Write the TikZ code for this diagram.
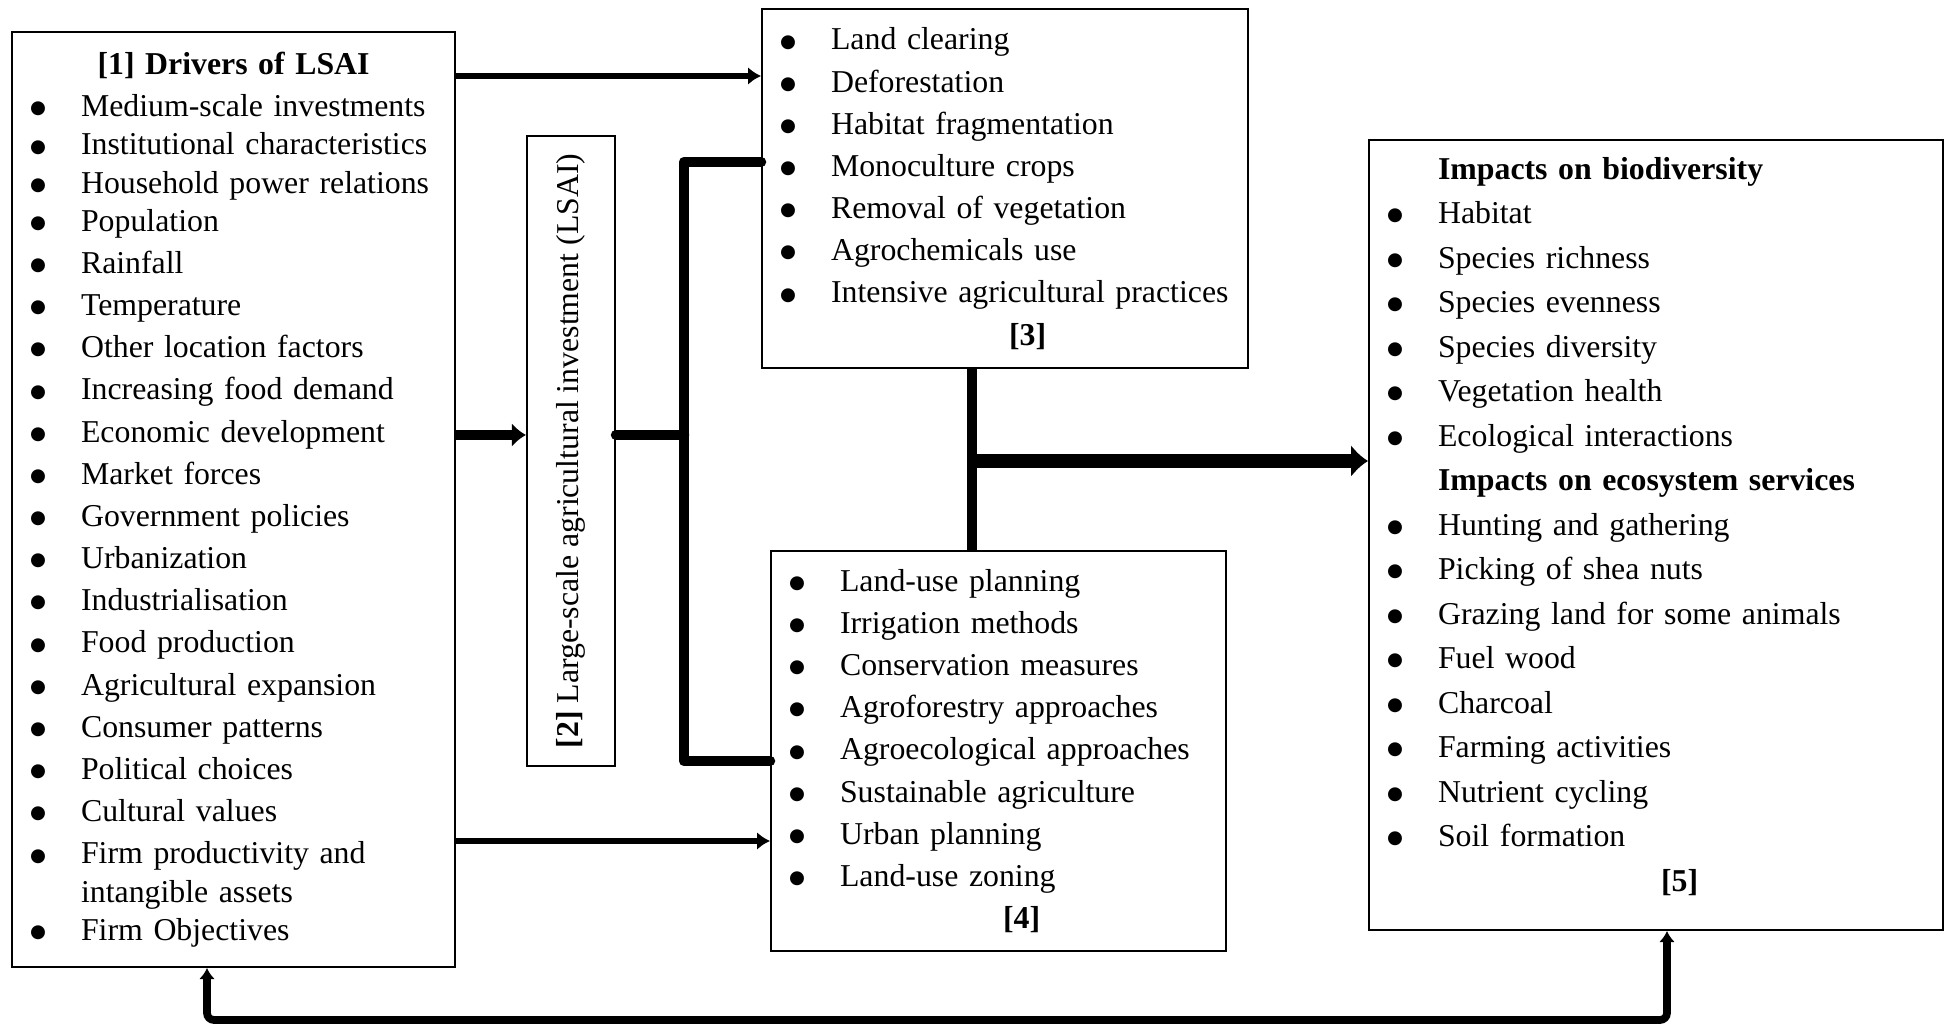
\documentclass[tikz,border=0pt]{standalone}
\usepackage{fontspec}
\setmainfont{Liberation Serif}
\newfontfamily\symfont{DejaVu Sans}
\usetikzlibrary{arrows.meta,positioning,calc}
\newcommand{\bul}[1]{\mbox{\makebox[0.47cm][l]{\hspace*{-0.04cm}\raisebox{0.8pt}{\fontsize{5.2}{5.2}\symfont ●}}#1}}
\newcommand{\ctr}[1]{\hbox to \hsize{\hfil\textbf{#1}\hfil}}

\begin{document}
\begin{tikzpicture}[
    box/.style={rectangle, draw, line width=0.6pt, inner sep=0pt, align=left,
                font=\fontsize{9.05}{12}\selectfont},
    wide/.style={box, font=\fontsize{9.05}{12.66}\selectfont},
    arr/.style={-{Latex[length=1.3mm, width=1.8mm]}, line width=1.7pt},
    thk/.style={-{Latex[length=1.4mm, width=2.4mm]}, line width=2.9pt},
    bar/.style={line width=3pt, line cap=round, line join=round},
    big/.style={-{Latex[length=1.7mm, width=3.3mm]}, line width=4.2pt},
    fb/.style={{Latex[length=1.1mm, width=1.6mm]}-{Latex[length=1.1mm, width=1.6mm]}, line width=2.2pt}
]
\useasboundingbox (0,0) rectangle (19.5,-10.26);

% [1] drivers
\node[box, anchor=north west, minimum width=4.43cm, minimum height=9.35cm, text width=3.99cm] (drv) at (0.11,-0.31) {%
\ctr{[1] Drivers of LSAI}\\
\bul{Medium-scale investments}\\[-0.04cm]
\bul{Institutional characteristics}\\[-0.04cm]
\bul{Household power relations}\\[-0.04cm]
\bul{Population}\\
\bul{Rainfall}\\
\bul{Temperature}\\
\bul{Other location factors}\\
\bul{Increasing food demand}\\
\bul{Economic development}\\
\bul{Market forces}\\
\bul{Government policies}\\
\bul{Urbanization}\\
\bul{Industrialisation}\\
\bul{Food production}\\
\bul{Agricultural expansion}\\
\bul{Consumer patterns}\\
\bul{Political choices}\\
\bul{Cultural values}\\
\bul{Firm productivity and}\\[-0.04cm]
\hspace*{0.47cm}intangible assets\\[-0.04cm]
\bul{Firm Objectives}};

% [2] LSAI
\node[box, rotate=90, minimum width=6.30cm, minimum height=0.88cm] (lsai) at (5.71,-4.51)
  {\textbf{[2]} Large-scale agricultural investment (LSAI)};

% [3] practices
\node[box, anchor=north west, minimum width=4.86cm, minimum height=3.59cm, text width=4.42cm] (prac) at (7.61,-0.08) {%
\bul{Land clearing}\\
\bul{Deforestation}\\
\bul{Habitat fragmentation}\\
\bul{Monoculture crops}\\
\bul{Removal of vegetation}\\
\bul{Agrochemicals use}\\
\bul{Intensive agricultural practices}\\
\hspace*{2.25cm}\textbf{[3]}};

% [4] policies
\node[box, anchor=north west, minimum width=4.55cm, minimum height=4.00cm, text width=4.11cm] (pol) at (7.70,-5.50) {%
\bul{Land-use planning}\\
\bul{Irrigation methods}\\
\bul{Conservation measures}\\
\bul{Agroforestry approaches}\\
\bul{Agroecological approaches}\\
\bul{Sustainable agriculture}\\
\bul{Urban planning}\\
\bul{Land-use zoning}\\
\hspace*{2.10cm}\textbf{[4]}};

% [5] impacts
\node[wide, anchor=north west, minimum width=5.74cm, minimum height=7.90cm, text width=5.30cm] (eff) at (13.68,-1.39) {%
\hspace*{0.47cm}\textbf{Impacts on biodiversity}\\
\bul{Habitat}\\
\bul{Species richness}\\
\bul{Species evenness}\\
\bul{Species diversity}\\
\bul{Vegetation health}\\
\bul{Ecological interactions}\\
\hspace*{0.47cm}\textbf{Impacts on ecosystem services}\\
\bul{Hunting and gathering}\\
\bul{Picking of shea nuts}\\
\bul{Grazing land for some animals}\\
\bul{Fuel wood}\\
\bul{Charcoal}\\
\bul{Farming activities}\\
\bul{Nutrient cycling}\\
\bul{Soil formation}\\
\hspace*{2.70cm}\textbf{[5]}\rule[-0.22cm]{0pt}{0pt}};

% junction points
\coordinate (r1) at (0,-0.76);
\coordinate (r4) at (0,-8.41);
\coordinate (jn) at (6.84,-4.35);
\coordinate (bt) at (6.84,-1.62);
\coordinate (bb) at (6.84,-7.61);
\coordinate (mid) at (9.72,-4.61);
\coordinate (fbl) at (2.07,-10.20);
\coordinate (fbr) at (16.67,-10.20);

% connectors
\draw[arr] (drv.east |- r1) -- (prac.west |- r1);
\draw[arr] (drv.east |- r4) -- (pol.west |- r4);
\draw[thk] (drv.east |- jn) -- (lsai.north |- jn);
\draw[bar] (lsai.south |- jn) -- (jn);
\draw[bar] (prac.west |- bt) -- (bt) -- (bb) -- (pol.west |- bb);
\draw[bar, line cap=butt] (mid |- prac.south) -- (mid |- pol.north);
\draw[big] (mid) -- (mid -| eff.west);
\draw[fb, rounded corners=2pt] (drv.south -| fbl) -- (fbl) -- (fbr) -- (eff.south -| fbr);
\end{tikzpicture}
\end{document}
